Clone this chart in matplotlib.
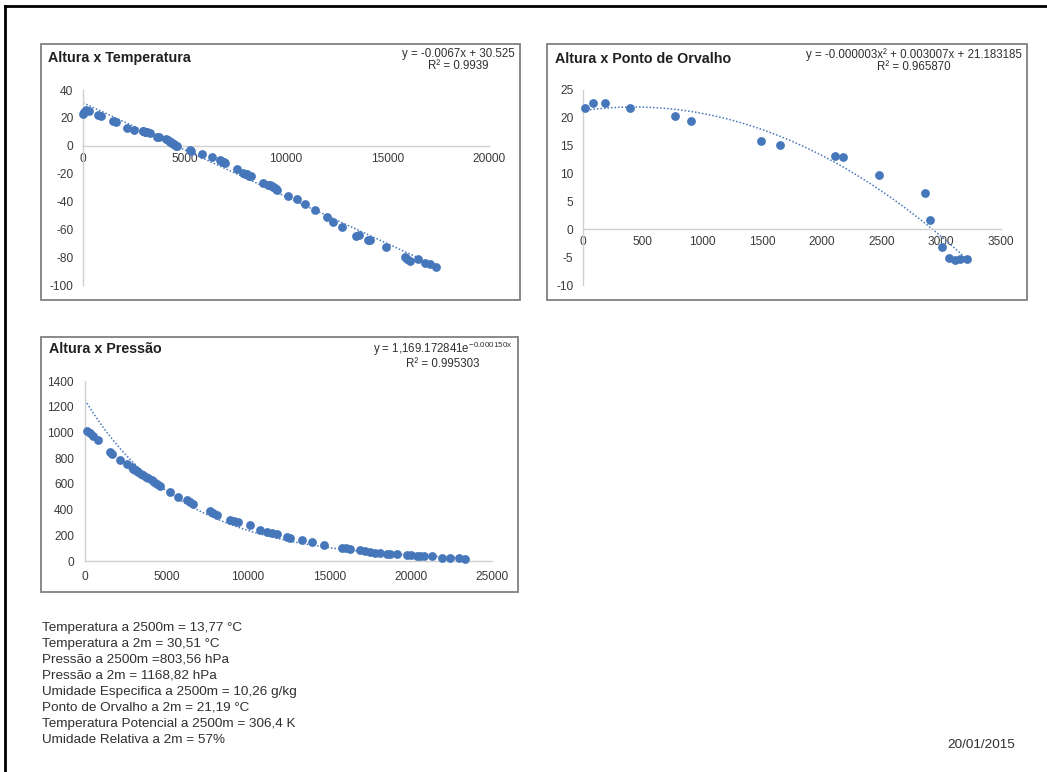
import numpy as np
import matplotlib
matplotlib.use("Agg")
import matplotlib.pyplot as plt
from matplotlib.patches import Rectangle
from matplotlib.lines import Line2D

plt.rcParams['font.family'] = ['Liberation Sans', 'DejaVu Sans']
plt.rcParams['mathtext.fontset'] = 'custom'
plt.rcParams['mathtext.rm'] = 'Liberation Sans'
plt.rcParams['axes.unicode_minus'] = False

W, H = 1047, 772

# --- Altura x Temperatura (m, °C) ---
alt_temp = [0, 60, 150, 300, 750, 870, 1500, 1630, 2160, 2520, 2950, 2980, 3050,
            3100, 3150, 3300, 3650, 3760, 4100, 4200, 4300, 4350, 4450, 4500,
            4600, 4650, 5250, 5330, 5850, 6350, 6750, 6800, 6900, 6950, 7000,
            7570, 7900, 8000, 8060, 8200, 8300, 8880, 9130, 9200, 9300, 9380,
            9450, 9500, 9540, 10110, 10520, 10930, 11430, 12000, 12330, 12740,
            13470, 13600, 14050, 14150, 14950, 15850, 15950, 16090, 16500, 16830,
            17080, 17400]
temp = [22.8, 24.0, 26.0, 25.0, 22.0, 21.3, 17.5, 16.8, 13.0, 11.5, 10.5, 10.3,
        10.0, 9.8, 9.6, 9.0, 6.0, 6.4, 4.5, 3.8, 3.0, 2.5, 1.5, 1.0, 0.0, -0.5,
        -3.0, -3.5, -6.0, -8.0, -10.0, -10.8, -11.5, -12.0, -12.5, -16.5, -19.5,
        -20.0, -20.5, -21.5, -22.0, -26.5, -28.0, -28.5, -29.0, -29.5, -30.0,
        -30.8, -31.5, -36.0, -38.0, -42.0, -46.5, -51.0, -55.0, -58.0, -64.5,
        -64.0, -68.0, -67.5, -73.0, -80.0, -81.0, -82.5, -81.0, -84.0, -85.0,
        -87.0]

# --- Altura x Ponto de Orvalho (m, °C) ---
alt_dew = [14, 84, 187, 396, 767, 907, 1487, 1651, 2111, 2175, 2482, 2864, 2909,
           3007, 3062, 3115, 3157, 3212]
dew = [21.7, 22.7, 22.6, 21.7, 20.4, 19.4, 15.8, 15.2, 13.1, 12.9, 9.8, 6.5,
       1.6, -3.1, -5.2, -5.6, -5.4, -5.4]

# --- Altura x Pressão (m, hPa) ---
alt_pres = [100, 307, 512, 820, 1537, 1640, 2151, 2561, 2869, 2970, 3074, 3180,
            3279, 3430, 3586, 3740, 3893, 4098, 4250, 4405, 4610, 5225, 5737,
            6249, 6450, 6659, 7684, 7890, 8093, 8913, 9170, 9425, 10142, 10757,
            11167, 11500, 11782, 12396, 12600, 13318, 13933, 14650, 15777, 16050,
            16289, 16904, 17200, 17519, 17800, 18134, 18544, 18750, 19158, 19773,
            20050, 20388, 20600, 20798, 21310, 21925, 22438, 22950, 23360]
pres = [1009, 996, 970, 939, 848, 835, 788, 757, 731, 718, 705, 698, 692, 678,
        666, 655, 646, 627, 614, 602, 583, 537, 498, 472, 460, 446, 386, 373,
        360, 322, 312, 303, 277, 244, 226, 216, 207, 187, 181, 161, 148, 122,
        104, 100, 96, 83, 77, 70, 66, 62, 57, 55, 52, 47, 43, 39, 37, 36, 36,
        26, 23, 21, 18]

titles = ["Altura x Temperatura", "Altura x Ponto de Orvalho", "Altura x Pressão"]
equations = ["y = -0.0067x + 30.525\nR² = 0.9939",
             "y = -0.000003x² + 0.003007x + 21.183185\nR² = 0.965870",
             r"y = 1,169.172841e$^{\mathregular{-0.000150x}}$" + "\nR² = 0.995303"]

notes = ["Temperatura a 2500m = 13,77 °C",
         "Temperatura a 2m = 30,51 °C",
         "Pressão a 2500m =803,56 hPa",
         "Pressão a 2m = 1168,82 hPa",
         "Umidade Especifica a 2500m = 10,26 g/kg",
         "Ponto de Orvalho a 2m = 21,19 °C",
         "Temperatura Potencial a 2500m = 306,4 K",
         "Umidade Relativa a 2m = 57%"]
date_text = "20/01/2015"

BLUE = '#4677bb'
AXIS_GRAY = '#d0d0d0'
TEXT_GRAY = '#3a3a3a'

fig = plt.figure(figsize=(W / 100, H / 100), dpi=100)


def fx(px):
    return px / W


def fy(py):
    return 1 - py / H


def box(l, t, r, b):
    fig.patches.append(Rectangle((fx(l), fy(b)), fx(r - l), (b - t) / H,
                                 transform=fig.transFigure, facecolor='white',
                                 edgecolor='#808080', linewidth=1.3, zorder=-1))


def axes_px(l, t, r, b):
    ax = fig.add_axes([fx(l), fy(b), fx(r - l), (b - t) / H])
    ax.set_zorder(2)
    ax.patch.set_visible(False)
    for s in ('top', 'right'):
        ax.spines[s].set_visible(False)
    for s in ('left', 'bottom'):
        ax.spines[s].set_color(AXIS_GRAY)
        ax.spines[s].set_linewidth(1.0)
    ax.spines['left'].set_position(('data', 0))
    ax.spines['bottom'].set_position(('data', 0))
    ax.tick_params(length=0, labelsize=8.6, colors=TEXT_GRAY)
    return ax


# page frame
fig.add_artist(Line2D([fx(5), fx(5)], [fy(6), 0], transform=fig.transFigure,
                      color='black', linewidth=2))
fig.add_artist(Line2D([fx(5), 1], [fy(6), fy(6)], transform=fig.transFigure,
                      color='black', linewidth=2))

dot = dict(color=BLUE, s=40, linewidths=0, zorder=3, clip_on=False)
trend = dict(color=BLUE, linestyle=(0, (1, 1.3)), linewidth=1.1, zorder=2)

# chart 1: temperature, linear trend
box(41, 44, 520, 300)
ax1 = axes_px(83, 90, 489, 285)
ax1.set_xlim(0, 20000)
ax1.set_ylim(-100, 40)
ax1.set_xticks(np.arange(0, 20001, 5000))
ax1.set_yticks(np.arange(-100, 41, 20))
ax1.tick_params(axis='x', pad=5)
ax1.tick_params(axis='y', pad=7)
ax1.scatter(alt_temp, temp, **dot)
c1 = np.polyfit(alt_temp, temp, 1)
xs1 = np.linspace(0, max(alt_temp), 200)
ax1.plot(xs1, np.polyval(c1, xs1), **trend)

# chart 2: dew point, quadratic trend
box(547, 44, 1027, 300)
ax2 = axes_px(583, 90, 1001, 285)
ax2.set_xlim(0, 3500)
ax2.set_ylim(-10, 25)
ax2.set_xticks(np.arange(0, 3501, 500))
ax2.set_yticks(np.arange(-10, 26, 5))
ax2.tick_params(axis='x', pad=5)
ax2.tick_params(axis='y', pad=7)
ax2.scatter(alt_dew, dew, **dot)
c2 = np.polyfit(alt_dew, dew, 2)
xs2 = np.linspace(0, max(alt_dew), 200)
ax2.plot(xs2, np.polyval(c2, xs2), **trend)

# chart 3: pressure, exponential trend
box(41, 337, 518, 592)
ax3 = axes_px(85, 381, 492, 561)
ax3.set_xlim(0, 25000)
ax3.set_ylim(0, 1400)
ax3.set_xticks(np.arange(0, 25001, 5000))
ax3.set_yticks(np.arange(0, 1401, 200))
ax3.tick_params(axis='x', pad=7)
ax3.tick_params(axis='y', pad=8)
ax3.scatter(alt_pres, pres, **dot)
c3 = np.polyfit(alt_pres, np.log(pres), 1)
xs3 = np.linspace(0, max(alt_pres), 200)
ax3.plot(xs3, np.exp(np.polyval(c3, xs3)), **trend)

# titles and trend equations
for (tx, ty), t in zip([(48, 58), (555, 59), (49, 349)], titles):
    fig.text(fx(tx), fy(ty), t, fontsize=10.3, fontweight='bold',
             color='#202020', ha='left', va='center')
for (ex, ey), e in zip([(515, 48), (1022, 48), (513, 340)], equations):
    fig.text(fx(ex), fy(ey), e, fontsize=8.3, color='#303030', ha='right',
             va='top', multialignment='center', linespacing=1.0)

# summary notes
for i, line in enumerate(notes):
    fig.text(fx(42), fy(628 + 16 * i), line, fontsize=9.7, color='#303030',
             ha='left', va='center')
fig.text(fx(1015), fy(745), date_text, fontsize=9.7, color='#303030',
         ha='right', va='center')

fig.savefig("out.png", dpi=100, facecolor='white')
